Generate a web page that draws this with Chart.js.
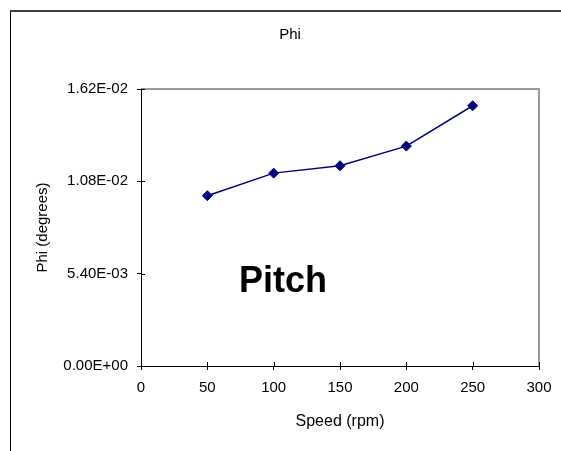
<!DOCTYPE html>
<html>
<head>
<meta charset="utf-8">
<script src="https://cdn.jsdelivr.net/npm/chart.js@4/dist/chart.umd.min.js"></script>
<style>
  html, body { margin: 0; padding: 0; background: #fff; }
  canvas { display: block; }
</style>
</head>
<body>
<canvas id="phiChart" width="561" height="451"></canvas>
<script>
// data
const speeds = [50, 100, 150, 200, 250];
const phiValues = [0.00996, 0.01128, 0.01171, 0.01286, 0.01522];
const yTicks = [0, 0.0054, 0.0108, 0.0162];
const xTicks = [0, 50, 100, 150, 200, 250, 300];

const chartTitle = 'Phi';
const pitchLabel = { text: 'Pitch', x: 107, y: 0.0043 };

const FONT = "'Liberation Sans', Arial, sans-serif";

// 1.62E-02 style, like the spreadsheet
function sciLabel(v) {
    const parts = Number(v).toExponential(2).split('e');
    const exp = parseInt(parts[1], 10);
    const sign = exp < 0 ? '-' : '+';
    return parts[0] + 'E' + sign + String(Math.abs(exp)).padStart(2, '0');
}

// outer frame, title, plot border and the inner half of the tick marks
const framePlugin = {
    id: 'frame',
    beforeDraw(chart) {
        const ctx = chart.ctx;
        ctx.save();
        ctx.strokeStyle = '#000';
        ctx.lineWidth = 1;
        ctx.beginPath();
        ctx.moveTo(10.5, 10);
        ctx.lineTo(10.5, chart.height);
        ctx.stroke();
        ctx.strokeStyle = '#404040';
        ctx.lineWidth = 2;
        ctx.beginPath();
        ctx.moveTo(10, 11);
        ctx.lineTo(chart.width, 11);
        ctx.stroke();

        // the frame runs past the window, so the title sits right of the plot centre
        ctx.fillStyle = '#000';
        ctx.font = '15px ' + FONT;
        ctx.textAlign = 'center';
        ctx.textBaseline = 'middle';
        ctx.fillText(chartTitle, 290, 35);
        ctx.restore();
    },
    beforeDatasetsDraw(chart) {
        const { ctx, chartArea: a, scales } = chart;
        ctx.save();
        ctx.strokeStyle = '#999';
        ctx.lineWidth = 2;
        ctx.beginPath();
        ctx.moveTo(a.left, a.top);
        ctx.lineTo(a.right, a.top);
        ctx.lineTo(a.right, a.bottom);
        ctx.stroke();

        ctx.strokeStyle = '#000';
        ctx.lineWidth = 1;
        ctx.beginPath();
        scales.x.ticks.forEach((t, i) => {
            const px = Math.round(scales.x.getPixelForTick(i)) + 0.5;
            ctx.moveTo(px, a.bottom);
            ctx.lineTo(px, a.bottom - 4);
        });
        scales.y.ticks.forEach((t, i) => {
            const py = Math.round(scales.y.getPixelForTick(i)) + 0.5;
            ctx.moveTo(a.left, py);
            ctx.lineTo(a.left + 4, py);
        });
        ctx.stroke();

        // "Pitch" note inside the plot
        ctx.fillStyle = '#000';
        ctx.font = 'bold 36px ' + FONT;
        ctx.textAlign = 'center';
        ctx.textBaseline = 'alphabetic';
        ctx.fillText(pitchLabel.text,
            scales.x.getPixelForValue(pitchLabel.x),
            scales.y.getPixelForValue(pitchLabel.y));
        ctx.restore();
    }
};

new Chart(document.getElementById('phiChart'), {
    type: 'line',
    data: {
        datasets: [{
            label: 'Phi',
            data: speeds.map((s, i) => ({ x: s, y: phiValues[i] })),
            borderColor: '#000080',
            backgroundColor: '#000080',
            borderWidth: 1.5,
            pointStyle: 'rectRot',
            pointRadius: 5,
            pointBorderWidth: 1,
            fill: false,
            tension: 0
        }]
    },
    options: {
        responsive: false,
        animation: false,
        devicePixelRatio: 1,
        layout: { padding: { left: 0, right: 22, top: 89, bottom: 0 } },
        plugins: {
            legend: { display: false },
            tooltip: { enabled: false },
            title: { display: false }
        },
        scales: {
            x: {
                type: 'linear',
                min: 0,
                max: 300,
                afterBuildTicks: s => { s.ticks = xTicks.map(v => ({ value: v })); },
                afterFit: s => { s.height = 85; },
                grid: { drawOnChartArea: false, drawTicks: true, tickLength: 4, color: '#000' },
                border: { color: '#000', width: 1 },
                ticks: {
                    color: '#000',
                    padding: 9,
                    maxRotation: 0,
                    font: { family: FONT, size: 15 }
                },
                title: {
                    display: true,
                    text: 'Speed (rpm)',
                    color: '#000',
                    font: { family: FONT, size: 16 },
                    padding: { top: 0, bottom: 20 }
                }
            },
            y: {
                min: 0,
                max: 0.0162,
                afterBuildTicks: s => { s.ticks = yTicks.map(v => ({ value: v })); },
                afterFit: s => { s.width = 141; },
                grid: { drawOnChartArea: false, drawTicks: true, tickLength: 4, color: '#000' },
                border: { color: '#000', width: 1 },
                ticks: {
                    color: '#000',
                    padding: 9,
                    font: { family: FONT, size: 15 },
                    callback: v => sciLabel(v)
                },
                title: {
                    display: true,
                    text: 'Phi (degrees)',
                    color: '#000',
                    font: { family: FONT, size: 15 },
                    padding: { top: 34, bottom: 0 }
                }
            }
        }
    },
    plugins: [framePlugin]
});
</script>
</body>
</html>
